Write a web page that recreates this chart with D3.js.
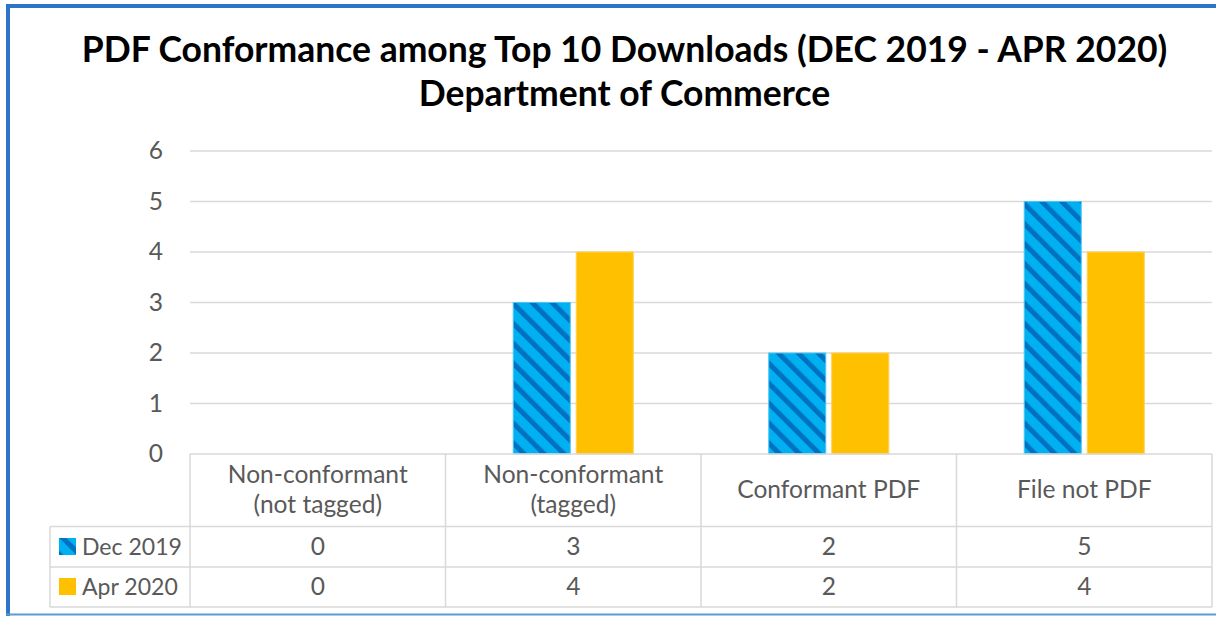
<!DOCTYPE html>
<html>
<head>
<meta charset="utf-8">
<script src="https://cdn.jsdelivr.net/npm/d3@7"></script>
<style>
  html, body { margin: 0; padding: 0; background: #fff; }
  svg { display: block; }
  text { font-family: Lato, "Open Sans", "Noto Sans", sans-serif; }
</style>
</head>
<body>
<svg id="chart" width="1216" height="617"></svg>
<script>
// ---- data ----
const titleLines = ["PDF Conformance among Top 10 Downloads (DEC 2019 - APR 2020)", "Department of Commerce"];
const categories = ["Non-conformant (not tagged)", "Non-conformant (tagged)", "Conformant PDF", "File not PDF"];
const seriesNames = ["Dec 2019", "Apr 2020"];
const dec2019 = [0, 3, 2, 5];
const apr2020 = [0, 4, 2, 4];
const yTicks = [0, 1, 2, 3, 4, 5, 6];

const seriesValues = [dec2019, apr2020];
const rows = categories.map((c, i) => ({ cat: c, vals: seriesValues.map(s => s[i]) }));

// ---- layout ----
const W = 1216, H = 617;
const plot = { left: 190, right: 1212, top: 151, bottom: 454 };
const table = { left: 50, headerBottom: 526.5, row1Bottom: 567, row2Bottom: 607 };
const textColor = "#595959";
const gridColor = "#d9d9d9";
const colors = { base: "#00b0f0", stripe: "#0070c0", yellow: "#ffc000" };

const svg = d3.select("#chart");
const defs = svg.append("defs");

// stripe pattern (downward diagonal)
const P = 14.1;
const pat = defs.append("pattern")
  .attr("id", "stripes")
  .attr("patternUnits", "userSpaceOnUse")
  .attr("width", P).attr("height", P)
  .attr("patternTransform", "rotate(-45)");
pat.append("rect").attr("width", P).attr("height", P).attr("fill", colors.base);
pat.append("rect").attr("x", 0).attr("width", 5).attr("height", P).attr("fill", colors.stripe);

// font fitting helper
function fitSize(str, target, weight) {
  const t = svg.append("text").style("font-size", "100px").style("font-weight", weight || "normal").text(str);
  const w = t.node().getComputedTextLength();
  t.remove();
  return 100 * target / w;
}
const titleSize = fitSize(titleLines[0], 1086, "bold");
const bodySize = fitSize("Non-conformant", 180, "normal");
const legendSize = fitSize(seriesNames[0], 100, "normal");

// scales
const x0 = d3.scaleBand().domain(categories).range([plot.left, plot.right]).paddingInner(0).paddingOuter(0);
const x1 = d3.scaleBand().domain(seriesNames).range([0, x0.bandwidth()]).paddingInner(0.095).paddingOuter(1.075);
const y = d3.scaleLinear().domain([0, 6]).range([plot.bottom, plot.top]);

// border
svg.append("line").attr("x1", 8).attr("x2", 8).attr("y1", 4).attr("y2", 616)
  .attr("stroke", "#2e75c6").attr("stroke-width", 4);
svg.append("line").attr("x1", 6).attr("x2", W).attr("y1", 6).attr("y2", 6)
  .attr("stroke", "#2e75c6").attr("stroke-width", 4);
svg.append("line").attr("x1", 6).attr("x2", W).attr("y1", 614.5).attr("y2", 614.5)
  .attr("stroke", "#5b9bd5").attr("stroke-width", 2);

// title
svg.append("g").selectAll("text").data(titleLines).join("text")
  .attr("x", 624.5).attr("y", (d, i) => 62 + i * 44)
  .attr("text-anchor", "middle")
  .style("font-size", titleSize + "px").style("font-weight", "bold").attr("fill", "#000")
  .text(d => d);

// gridlines
svg.append("g").selectAll("line").data(yTicks.filter(t => t > 0)).join("line")
  .attr("x1", plot.left).attr("x2", plot.right)
  .attr("y1", d => y(d)).attr("y2", d => y(d))
  .attr("stroke", gridColor).attr("stroke-width", 1.5);

// y axis labels
const yAxis = d3.axisLeft(y).tickValues(yTicks).tickSize(0).tickPadding(27).tickFormat(d3.format("d"));
const gy = svg.append("g").attr("transform", `translate(${plot.left},0)`).call(yAxis);
gy.select(".domain").remove();
gy.selectAll("text").style("font-size", bodySize + "px").style("font-family", "Lato, 'Open Sans', sans-serif").attr("fill", textColor);

// bars
const gBars = svg.append("g").selectAll("g").data(rows).join("g")
  .attr("transform", d => `translate(${x0(d.cat)},0)`);
gBars.selectAll("rect").data(d => d.vals.map((v, i) => ({ s: seriesNames[i], v, i }))).join("rect")
  .filter(d => d.v > 0)
  .attr("x", d => x1(d.s)).attr("width", x1.bandwidth())
  .attr("y", d => y(d.v)).attr("height", d => y(0) - y(d.v))
  .attr("fill", d => d.i === 0 ? "url(#stripes)" : colors.yellow)
  .attr("stroke", d => d.i === 0 ? "#4cc6f4" : "#ffd04d")
  .attr("stroke-width", 1);

// table lines
const gT = svg.append("g").attr("stroke", gridColor).attr("stroke-width", 1.5);
gT.append("line").attr("x1", plot.left).attr("x2", plot.right).attr("y1", plot.bottom).attr("y2", plot.bottom);
[table.headerBottom, table.row1Bottom, table.row2Bottom].forEach(yy =>
  gT.append("line").attr("x1", table.left).attr("x2", plot.right).attr("y1", yy).attr("y2", yy));
const colEdges = categories.map(c => x0(c)).concat([plot.right]);
gT.selectAll("line.v").data(colEdges).join("line").attr("class", "v")
  .attr("x1", d => d).attr("x2", d => d).attr("y1", plot.bottom).attr("y2", table.row2Bottom);
gT.append("line").attr("x1", table.left).attr("x2", table.left).attr("y1", table.headerBottom).attr("y2", table.row2Bottom);

// category labels
const headerMid = (plot.bottom + table.headerBottom) / 2;
const gCat = svg.append("g").selectAll("text").data(categories).join("text")
  .attr("text-anchor", "middle")
  .attr("fill", textColor).style("font-size", bodySize + "px");
gCat.each(function (d) {
  const idx = d.indexOf(" (");
  const lines = idx >= 0 ? [d.slice(0, idx), d.slice(idx + 1)] : [d];
  const cx = x0(d) + x0.bandwidth() / 2;
  const lh = 30;
  const sel = d3.select(this);
  lines.forEach((ln, i) => {
    sel.append("tspan").attr("x", cx)
      .attr("y", headerMid + 8 + (i - (lines.length - 1) / 2) * lh)
      .text(ln);
  });
});

// value rows + legend keys
const rowBaselines = [555, 595];
seriesNames.forEach((s, si) => {
  const g = svg.append("g");
  g.append("rect").attr("x", 59).attr("y", rowBaselines[si] - 17).attr("width", 17).attr("height", 17)
    .attr("fill", si === 0 ? "url(#stripes)" : colors.yellow);
  g.append("text").attr("x", 82).attr("y", rowBaselines[si]).attr("fill", textColor)
    .style("font-size", legendSize + "px").text(s);
  g.selectAll("text.val").data(seriesValues[si]).join("text").attr("class", "val")
    .attr("x", (d, i) => x0(categories[i]) + x0.bandwidth() / 2)
    .attr("y", rowBaselines[si])
    .attr("text-anchor", "middle").attr("fill", textColor)
    .style("font-size", bodySize + "px")
    .text(d => d);
});
</script>
</body>
</html>
